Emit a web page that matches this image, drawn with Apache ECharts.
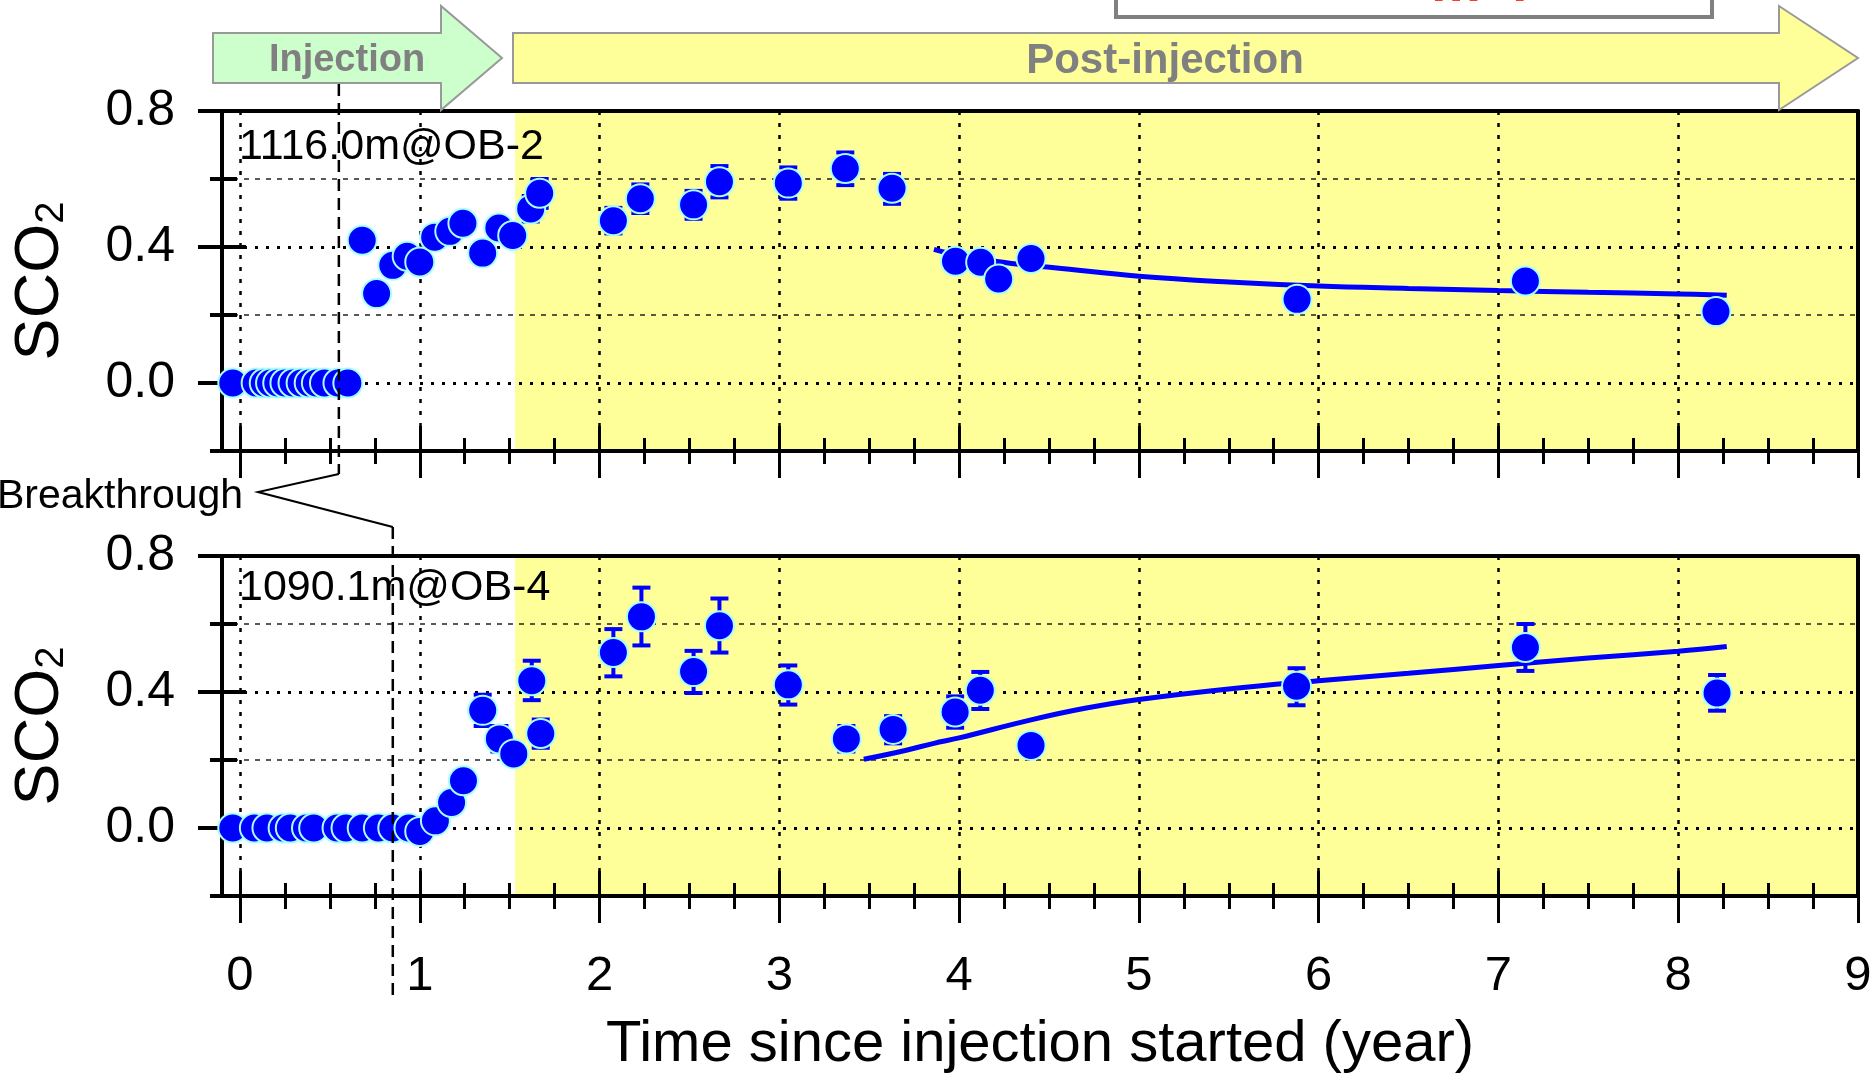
<!DOCTYPE html>
<html>
<head>
<meta charset="utf-8">
<script src="https://cdn.jsdelivr.net/npm/echarts@6/dist/echarts.min.js"></script>
<style>
html, body { margin: 0; padding: 0; background: #fff; }
#chart { width: 1875px; height: 1073px; }
</style>
</head>
<body>
<div id="chart"></div>
<script>
// ---- Monitoring point 1116.0 m @ OB-2 ----
const ob2Time = [-0.04, 0.09, 0.135, 0.17, 0.21, 0.25, 0.295, 0.34, 0.385, 0.425, 0.47, 0.545, 0.60,
  0.68, 0.76, 0.85, 0.93, 1.00, 1.083, 1.167, 1.24, 1.35, 1.44, 1.517, 1.617, 1.667,
  2.077, 2.227, 2.523, 2.667, 3.05, 3.367, 3.627, 3.98, 4.12, 4.22, 4.40, 5.88, 7.15, 8.21];
const ob2Sco2 = [0, 0, 0, 0, 0, 0, 0, 0, 0, 0, 0, 0, 0,
  0.42, 0.263, 0.346, 0.373, 0.356, 0.429, 0.446, 0.47, 0.382, 0.456, 0.434, 0.512, 0.558,
  0.477, 0.542, 0.524, 0.592, 0.588, 0.631, 0.573, 0.358, 0.355, 0.306, 0.366, 0.246, 0.30, 0.21];
const ob2ErrTime = [1.617, 1.667, 2.077, 2.227, 2.523, 2.667, 3.05, 3.367, 3.627];
const ob2ErrLow  = [0.475, 0.515, 0.44, 0.50, 0.483, 0.546, 0.542, 0.582, 0.527];
const ob2ErrHigh = [0.55, 0.60, 0.515, 0.584, 0.565, 0.638, 0.634, 0.678, 0.615];
const ob2FitTime = [3.86, 4.0, 4.2, 4.4, 4.53, 5.0, 5.5, 6.0, 6.5, 7.0, 7.5, 8.0, 8.27];
const ob2FitSco2 = [0.393, 0.375, 0.358, 0.345, 0.339, 0.314, 0.297, 0.285, 0.278, 0.272, 0.267, 0.262, 0.258];

// ---- Monitoring point 1090.1 m @ OB-4 ----
const ob4Time = [-0.04, 0.08, 0.15, 0.24, 0.28, 0.37, 0.41, 0.54, 0.59, 0.68, 0.77, 0.85, 0.94,
  1.0, 1.087, 1.177, 1.243, 1.35, 1.443, 1.523, 1.623, 1.673,
  2.077, 2.233, 2.523, 2.667, 3.05, 3.373, 3.633, 3.978, 4.118, 4.40, 5.877, 7.15, 8.216];
const ob4Sco2 = [0, 0, 0, 0, 0, 0, 0, 0, 0, 0, 0, 0, 0,
  -0.01, 0.021, 0.075, 0.139, 0.346, 0.262, 0.218, 0.433, 0.278,
  0.516, 0.621, 0.46, 0.595, 0.421, 0.262, 0.29, 0.341, 0.405, 0.243, 0.417, 0.531, 0.397];
const ob4ErrTime = [1.35, 1.443, 1.623, 1.673, 2.077, 2.233, 2.523, 2.667, 3.05, 3.373, 3.633, 3.978, 4.118, 5.877, 7.15, 8.216];
const ob4ErrLow  = [0.30, 0.225, 0.376, 0.236, 0.446, 0.537, 0.397, 0.516, 0.363, 0.225, 0.249, 0.295, 0.35, 0.361, 0.462, 0.345];
const ob4ErrHigh = [0.392, 0.30, 0.492, 0.319, 0.585, 0.707, 0.521, 0.675, 0.478, 0.30, 0.329, 0.387, 0.459, 0.47, 0.60, 0.45];
const ob4FitTime = [3.47, 3.7, 3.86, 4.0, 4.4, 4.7, 5.0, 5.5, 6.0, 6.5, 7.0, 7.5, 8.0, 8.27];
const ob4FitSco2 = [0.202, 0.228, 0.249, 0.265, 0.318, 0.352, 0.378, 0.409, 0.433, 0.455, 0.478, 0.50, 0.52, 0.534];

// ---- phases, events and axes ----
const POST_INJECTION_START = 1.53;   // year
const BREAKTHROUGH_OB2 = 0.55;       // year
const BREAKTHROUGH_OB4 = 0.85;       // year
const X_MIN = -0.1, X_MAX = 9;
const Y_MIN = -0.2, Y_MAX = 0.8;
const xMajorTicks = [0, 1, 2, 3, 4, 5, 6, 7, 8, 9];
const yMajorTicks = [0, 0.4, 0.8];
const yMinorTicks = [-0.2, 0.2, 0.6];
const xMinorTicks = [];
xMajorTicks.slice(0, -1).forEach(v => { xMinorTicks.push(v + 0.25, v + 0.5, v + 0.75); });

const FONT = '"Liberation Sans", Arial, Helvetica, sans-serif';
const BLUE = '#0000FF';

const zip2 = (a, b) => a.map((v, i) => [v, b[i]]);
const zip3 = (a, b, c) => a.map((v, i) => [v, b[i], c[i]]);

function xAxesFor(g, withLabels) {
  const base = { gridIndex: g, type: 'value', min: X_MIN, max: X_MAX, z: 3,
    axisLine: { show: false, onZero: false }, axisLabel: { show: false },
    splitLine: { show: false }, axisTick: { show: false } };
  const tick = (vals, len, inside, w) => ({ show: true, customValues: vals, length: len, inside,
    lineStyle: { color: '#000', width: w } });
  return [
    Object.assign({}, base, { position: 'bottom',
      axisLine: { show: true, onZero: false, lineStyle: { color: '#000', width: 4 } },
      axisTick: tick(xMajorTicks, 27, false, 3),
      axisLabel: { show: withLabels, customValues: xMajorTicks, margin: 56, fontSize: 49,
        color: '#000', fontFamily: FONT },
      name: withLabels ? 'Time since injection started (year)' : '',
      nameLocation: 'middle', nameGap: 120,
      nameTextStyle: { fontSize: 58, color: '#000', fontFamily: FONT } }),
    Object.assign({}, base, { position: 'bottom', axisTick: tick(xMajorTicks, 25, true, 3),
      splitLine: { show: true, lineStyle: { color: '#000', width: 2.5, type: [4, 8] } } }),
    Object.assign({}, base, { position: 'bottom', axisTick: tick(xMinorTicks, 13, false, 3) }),
    Object.assign({}, base, { position: 'bottom', axisTick: tick(xMinorTicks, 13, true, 3) }),
    Object.assign({}, base, { position: 'top',
      axisLine: { show: true, onZero: false, lineStyle: { color: '#000', width: 4 } } })
  ];
}

function yAxesFor(g) {
  const base = { gridIndex: g, type: 'value', min: Y_MIN, max: Y_MAX, z: 3,
    axisLine: { show: false, onZero: false }, axisLabel: { show: false },
    splitLine: { show: false }, axisTick: { show: false } };
  const tick = (vals, len, inside, w) => ({ show: true, customValues: vals, length: len, inside,
    lineStyle: { color: '#000', width: w } });
  return [
    Object.assign({}, base, { position: 'left',
      axisLine: { show: true, onZero: false, lineStyle: { color: '#000', width: 4 } },
      axisTick: tick(yMajorTicks, 24, false, 4),
      axisLabel: { show: true, customValues: yMajorTicks, margin: 47, fontSize: 50, color: '#000',
        fontFamily: FONT, formatter: v => v.toFixed(1) },
      splitLine: { show: true, lineStyle: { color: '#000', width: 3, type: [3, 8] } },
      name: 'SCO{s|2}', nameLocation: 'middle', nameRotate: 90, nameGap: 150,
      nameTextStyle: { fontSize: 63, color: '#000', fontFamily: FONT,
        rich: { s: { fontSize: 40, lineHeight: 4, verticalAlign: 'bottom', fontFamily: FONT, color: '#000' } } } }),
    Object.assign({}, base, { position: 'left', axisTick: tick(yMajorTicks, 24, true, 4) }),
    Object.assign({}, base, { position: 'left', axisTick: tick(yMinorTicks, 12, false, 4),
      splitLine: { show: true, lineStyle: { color: '#222', width: 1.5, type: [5, 6] } } }),
    Object.assign({}, base, { position: 'left', axisTick: tick(yMinorTicks, 15, true, 4) }),
    Object.assign({}, base, { position: 'right',
      axisLine: { show: true, onZero: false, lineStyle: { color: '#000', width: 4 } } })
  ];
}

function renderErrorBar(params, api) {
  const x = api.value(0);
  const lo = api.coord([x, api.value(1)]);
  const hi = api.coord([x, api.value(2)]);
  const hw = 9;
  const style = { stroke: BLUE, lineWidth: 4, fill: null };
  return { type: 'group', children: [
    { type: 'line', shape: { x1: lo[0], y1: lo[1], x2: hi[0], y2: hi[1] }, style },
    { type: 'line', shape: { x1: lo[0] - hw, y1: lo[1], x2: lo[0] + hw, y2: lo[1] }, style },
    { type: 'line', shape: { x1: hi[0] - hw, y1: hi[1], x2: hi[0] + hw, y2: hi[1] }, style }
  ] };
}

function seriesFor(g, time, sco2, errT, errLo, errHi, fitT, fitV) {
  const ax = { xAxisIndex: g * 5, yAxisIndex: g * 5 };
  return [
    Object.assign({ type: 'line', data: [], z: 1, silent: true,
      markArea: { silent: true, itemStyle: { color: '#FFFF99' },
        data: [[{ xAxis: POST_INJECTION_START }, { xAxis: X_MAX }]] } }, ax),
    Object.assign({ type: 'line', data: zip2(fitT, fitV), smooth: 0.4, showSymbol: false, z: 4,
      lineStyle: { color: BLUE, width: 5 } }, ax),
    Object.assign({ type: 'custom', data: zip3(errT, errLo, errHi), renderItem: renderErrorBar,
      encode: { x: 0, y: [1, 2] }, z: 5 }, ax),
    Object.assign({ type: 'scatter', data: zip2(time, sco2), symbolSize: 29, z: 6,
      itemStyle: { color: BLUE, borderColor: '#A6FFFF', borderWidth: 2, opacity: 1 } }, ax)
  ];
}

const chart = echarts.init(document.getElementById('chart'), null, { renderer: 'canvas' });
chart.setOption({
  animation: false,
  backgroundColor: '#fff',
  grid: [
    { left: 222, top: 111, width: 1636, height: 340, outerBoundsMode: 'none' },
    { left: 222, top: 556, width: 1636, height: 340, outerBoundsMode: 'none' }
  ],
  xAxis: xAxesFor(0, false).concat(xAxesFor(1, true)),
  yAxis: yAxesFor(0).concat(yAxesFor(1)),
  series: seriesFor(0, ob2Time, ob2Sco2, ob2ErrTime, ob2ErrLow, ob2ErrHigh, ob2FitTime, ob2FitSco2)
    .concat(seriesFor(1, ob4Time, ob4Sco2, ob4ErrTime, ob4ErrLow, ob4ErrHigh, ob4FitTime, ob4FitSco2))
});

// Header arrows, well labels and the breakthrough callout
const xTop = chart.convertToPixel({ xAxisIndex: 0 }, BREAKTHROUGH_OB2);
const xBot = chart.convertToPixel({ xAxisIndex: 5 }, BREAKTHROUGH_OB4);
const arrow = (x0, xh, xt) => [[x0, 33], [xh, 33], [xh, 6], [xt, 58], [xh, 110], [xh, 83], [x0, 83]];
const dash = { stroke: '#000', lineWidth: 2.5, lineDash: [12, 7] };
chart.setOption({
  graphic: [
    { type: 'rect', shape: { x: 1116, y: -10, width: 596, height: 27 }, z: 10,
      style: { fill: '#fff', stroke: '#808080', lineWidth: 4 } },
    { type: 'text', x: 1431, y: 14, z: 11,
      style: { text: 'm  l', fill: '#FF3B1F', font: 'bold 56px ' + FONT, verticalAlign: 'bottom' } },
    { type: 'polygon', shape: { points: arrow(213, 441, 502) }, z: 10,
      style: { fill: '#CCFFCC', stroke: '#999', lineWidth: 2 } },
    { type: 'text', x: 347, y: 61, z: 11,
      style: { text: 'Injection', fill: '#808080', font: 'bold 38px ' + FONT, align: 'center', verticalAlign: 'middle' } },
    { type: 'polygon', shape: { points: arrow(513, 1779, 1858) }, z: 10,
      style: { fill: '#FFFF99', stroke: '#999', lineWidth: 2 } },
    { type: 'text', x: 1165, y: 61, z: 11,
      style: { text: 'Post-injection', fill: '#808080', font: 'bold 42px ' + FONT, align: 'center', verticalAlign: 'middle' } },
    { type: 'text', x: 239, y: 147, z: 12,
      style: { text: '1116.0m@OB-2', fill: '#000', font: '43px ' + FONT, verticalAlign: 'middle' } },
    { type: 'text', x: 239, y: 588, z: 12,
      style: { text: '1090.1m@OB-4', fill: '#000', font: '43px ' + FONT, verticalAlign: 'middle' } },
    { type: 'line', shape: { x1: xTop, y1: 84, x2: xTop, y2: 474 }, z: 9, style: dash },
    { type: 'line', shape: { x1: xBot, y1: 527, x2: xBot, y2: 995 }, z: 9, style: dash },
    { type: 'polyline', shape: { points: [[xTop, 474], [258, 492], [xBot, 527]] }, z: 9,
      style: { stroke: '#000', lineWidth: 2, fill: null } },
    { type: 'text', x: -3, y: 497, z: 12,
      style: { text: 'Breakthrough', fill: '#000', font: '41px ' + FONT, verticalAlign: 'middle' } }
  ]
});
</script>
</body>
</html>
